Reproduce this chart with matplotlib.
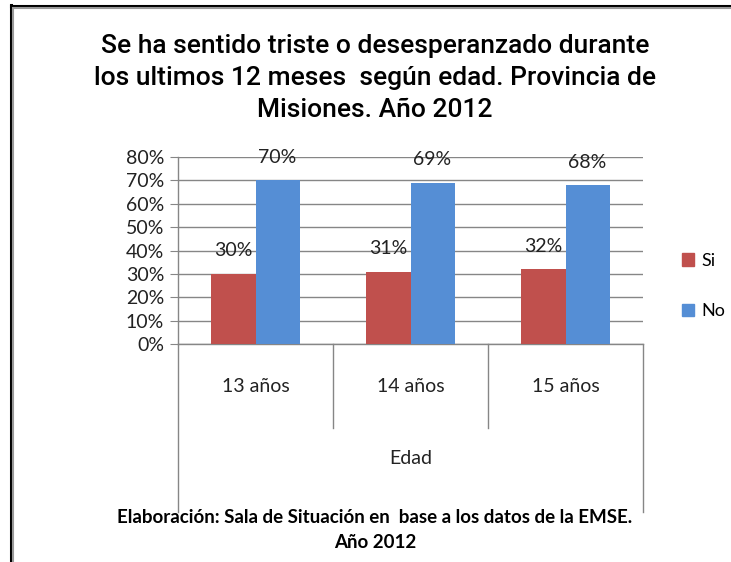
import matplotlib
matplotlib.use("Agg")
import matplotlib.pyplot as plt
from matplotlib.lines import Line2D
from matplotlib.patches import Patch
from matplotlib.ticker import PercentFormatter

categories = ["13 años", "14 años", "15 años"]
series_names = ["Si", "No"]
si_values = [0.30, 0.31, 0.32]
no_values = [0.70, 0.69, 0.68]
y_ticks = [0.0, 0.1, 0.2, 0.3, 0.4, 0.5, 0.6, 0.7, 0.8]
axis_title = "Edad"
title = ("Se ha sentido triste o desesperanzado durante\n"
         "los ultimos 12 meses  según edad. Provincia de\n"
         "Misiones. Año 2012")
footer = ("Elaboración: Sala de Situación en  base a los datos de la EMSE.\n"
          "Año 2012")

RED = "#C0504D"
BLUE = "#558ED5"
GRID = "#868686"
W, H = 731, 562

body_font = ["Lato", "DejaVu Sans"]
title_font = ["Roboto", "Liberation Sans", "DejaVu Sans"]

fig = plt.figure(figsize=(W / 100, H / 100), dpi=100)
fig.patch.set_facecolor("white")

# plot area in pixels: left 178, right 643, top 157, bottom 344
ax = fig.add_axes([178 / W, 1 - 344 / H, 465 / W, 187 / H])
x = list(range(len(categories)))
bw = 0.284
ax.bar([i - bw / 2 for i in x], si_values, width=bw, color=RED, zorder=3)
ax.bar([i + bw / 2 for i in x], no_values, width=bw, color=BLUE, zorder=3)

ax.set_xlim(-0.5, len(categories) - 0.5)
ax.set_ylim(0, 0.8)
ax.set_yticks(y_ticks)
ax.yaxis.set_major_formatter(PercentFormatter(1.0, decimals=0))
ax.set_xticks([])
ax.grid(axis="y", color=GRID, linewidth=1.0, zorder=0)
for s in ["top", "right"]:
    ax.spines[s].set_visible(False)
for s in ["left", "bottom"]:
    ax.spines[s].set_color(GRID)
    ax.spines[s].set_linewidth(1.0)
ax.tick_params(axis="y", length=6, color=GRID, labelsize=14, pad=4)
for lab in ax.get_yticklabels():
    lab.set_family(body_font)
    lab.set_color("#222222")

# data labels
for i, v in enumerate(si_values):
    ax.annotate(f"{v * 100:.0f}%", (i - bw / 2, v), xytext=(0, 23), textcoords="offset pixels",
                ha="center", va="center", fontsize=14, family=body_font, color="#222222")
for i, v in enumerate(no_values):
    ax.annotate(f"{v * 100:.0f}%", (i + bw / 2, v), xytext=(0, 23), textcoords="offset pixels",
                ha="center", va="center", fontsize=14, family=body_font, color="#222222")

# multi-level category axis
ph = 187.0
inner_y = -(428 - 344) / ph
outer_y = -(512 - 344) / ph
n = len(categories)
for k in range(n + 1):
    xf = k / n
    yb = outer_y if k in (0, n) else inner_y
    ax.add_line(Line2D([xf, xf], [0, yb], transform=ax.transAxes, color=GRID,
                       linewidth=1.0, clip_on=False))
for i, c in enumerate(categories):
    ax.text(i, -(387 - 344) / ph, c, transform=ax.get_xaxis_transform(), ha="center",
            va="center", fontsize=14, family=body_font, color="#222222")
ax.text((n - 1) / 2, -(458 - 344) / ph, axis_title, transform=ax.get_xaxis_transform(),
        ha="center", va="center", fontsize=14, family=body_font, color="#222222")

# legend
handles = [Patch(color=RED), Patch(color=BLUE)]
leg = fig.legend(handles, series_names, loc="center left",
                 bbox_to_anchor=(682 / W, 1 - 286 / H), frameon=False,
                 borderpad=0, borderaxespad=0,
                 prop={"family": body_font, "size": 13}, handlelength=0.65,
                 handleheight=0.65, handletextpad=0.4, labelspacing=1.9)

# title
fig.text(375 / W, 1 - 78 / H, title, ha="center", va="center", fontsize=19,
         family=title_font, weight="medium", linespacing=1.42, color="black")

# footer
fig.text(375 / W, 1 - 530 / H, footer, ha="center", va="center", fontsize=13.5,
         family=body_font, weight="bold", linespacing=1.6, color="black")

# frame lines (top and left)
fig.add_artist(Line2D([10.5 / W, 1], [1 - 5.5 / H, 1 - 5.5 / H], transform=fig.transFigure,
                      color="black", linewidth=2.2))
fig.add_artist(Line2D([13 / W, 1], [1 - 8 / H, 1 - 8 / H], transform=fig.transFigure,
                      color="#999999", linewidth=1.5))
fig.add_artist(Line2D([10.5 / W, 10.5 / W], [0, 1 - 5 / H], transform=fig.transFigure,
                      color="black", linewidth=2.2))
fig.add_artist(Line2D([13 / W, 13 / W], [0, 1 - 8 / H], transform=fig.transFigure,
                      color="#999999", linewidth=1.5))

fig.savefig("out.png", dpi=100, facecolor="white")
